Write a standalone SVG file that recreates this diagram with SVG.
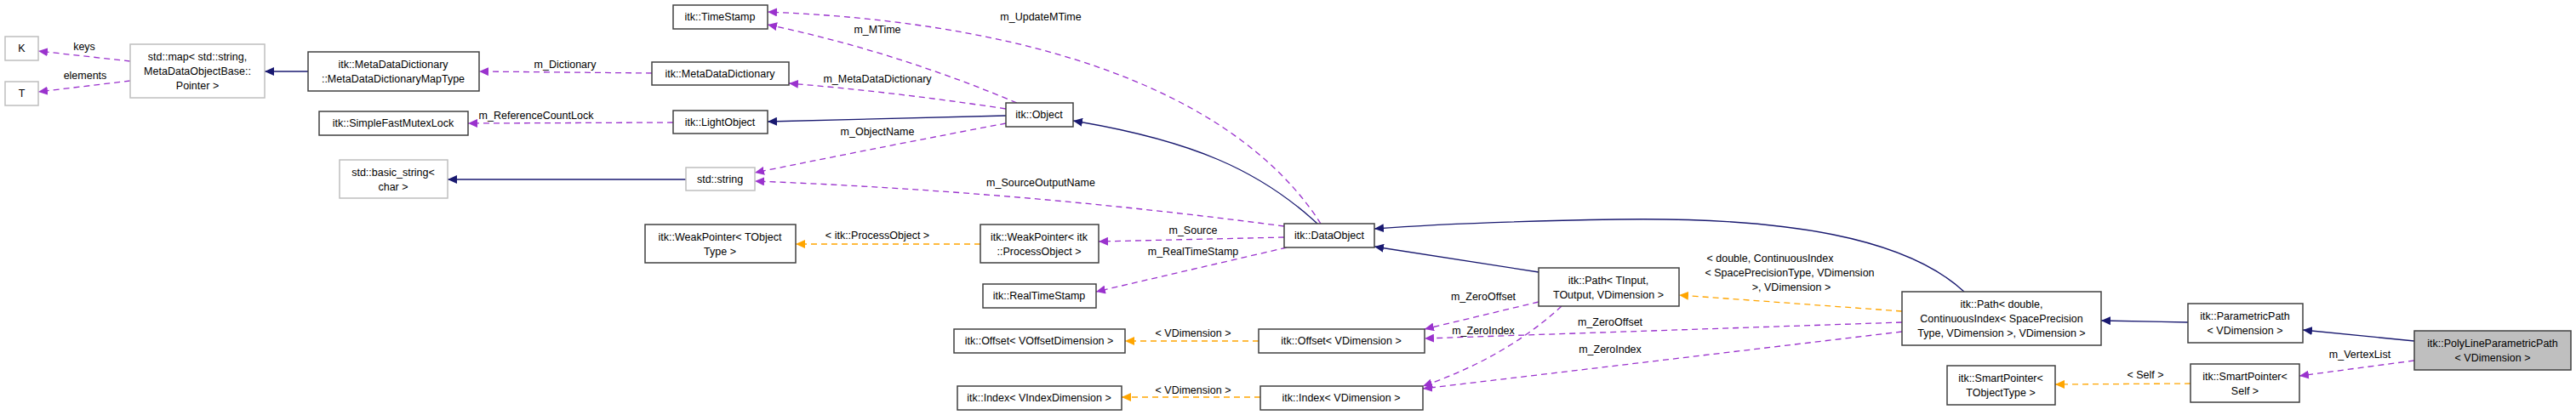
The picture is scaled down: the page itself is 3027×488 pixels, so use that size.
<svg xmlns="http://www.w3.org/2000/svg" width="3027" height="488" viewBox="0 0 3027 488">
<style>
text{font-family:"Liberation Sans",Arial,sans-serif;font-size:12.5px;fill:#000;text-anchor:middle}
.n{fill:#fff;stroke:#404040;stroke-width:1.5}
.g{fill:#fff;stroke:#bfbfbf;stroke-width:1.5}
.h{fill:#bfbfbf;stroke:#404040;stroke-width:1.5}
.s{fill:none;stroke:#191970;stroke-width:1.3;marker-end:url(#ab)}
.p{fill:none;stroke:#9a32cd;stroke-width:1.3;stroke-dasharray:7,5;marker-end:url(#ap)}
.o{fill:none;stroke:#ffa500;stroke-width:1.3;stroke-dasharray:7,5;marker-end:url(#ao)}
</style>
<defs>
<marker id="ab" markerUnits="userSpaceOnUse" markerWidth="12" markerHeight="10" refX="11" refY="5" orient="auto"><path d="M0,0L11,5L0,10z" fill="#191970"/></marker>
<marker id="ap" markerUnits="userSpaceOnUse" markerWidth="12" markerHeight="10" refX="11" refY="5" orient="auto"><path d="M0,0L11,5L0,10z" fill="#9a32cd"/></marker>
<marker id="ao" markerUnits="userSpaceOnUse" markerWidth="12" markerHeight="10" refX="11" refY="5" orient="auto"><path d="M0,0L11,5L0,10z" fill="#ffa500"/></marker>
</defs>
<rect width="3027" height="488" fill="#fff"/>
<g id="connectors">
<path class="p" d="M153,72L45,60"/><text x="99" y="59">keys</text>
<path class="p" d="M153,95L45,108"/><text x="100" y="93">elements</text>
<path class="s" d="M362,84L311,84"/>
<path class="p" d="M766,86L563,84"/><text x="664" y="80">m_Dictionary</text>
<path class="p" d="M791,144L550,145"/><text x="630" y="140">m_ReferenceCountLock</text>
<path class="s" d="M806,211L526,211"/>
<path class="p" d="M1195,121Q1050,60 902,29"/><text x="1031" y="39">m_MTime</text>
<path class="p" d="M1182,128Q1050,108 927,98"/><text x="1031" y="97">m_MetaDataDictionary</text>
<path class="s" d="M1182,136L902,143"/>
<path class="p" d="M1182,145Q1050,170 887,203"/><text x="1031" y="159">m_ObjectName</text>
<path class="p" d="M1552,263C1480,150 1300,30 902,14"/><text x="1223" y="24">m_UpdateMTime</text>
<path class="p" d="M1509,266Q1200,225 887,213"/><text x="1223" y="219">m_SourceOutputName</text>
<path class="s" d="M1548,263C1480,200 1400,165 1261,142"/>
<path class="p" d="M1509,279L1291,284"/><text x="1402" y="275">m_Source</text>
<path class="p" d="M1512,291L1288,343"/><text x="1402" y="300">m_RealTimeStamp</text>
<path class="o" d="M1152,287L935,287"/><text x="1031" y="281">&lt; itk::ProcessObject &gt;</text>
<path class="s" d="M1808,320L1615,290"/>
<path class="s" d="M2308,343C2240,280 2100,255 1900,258C1780,260 1680,264 1615,269"/>
<path class="o" d="M2235,366L1973,347"/>
<text x="2080" y="308">&lt; double, ContinuousIndex</text>
<text x="2103" y="325">&lt; SpacePrecisionType, VDimension</text>
<text x="2105" y="342">&gt;, VDimension &gt;</text>
<path class="p" d="M1808,355L1674,387"/><text x="1743" y="353">m_ZeroOffset</text>
<path class="p" d="M1835,360Q1770,420 1672,454"/><text x="1743" y="393">m_ZeroIndex</text>
<path class="p" d="M2235,379L1674,398"/><text x="1892" y="383">m_ZeroOffset</text>
<path class="p" d="M2235,390L1672,457"/><text x="1892" y="415">m_ZeroIndex</text>
<path class="o" d="M1479,401L1322,401"/><text x="1402" y="396">&lt; VDimension &gt;</text>
<path class="o" d="M1481,467L1318,467"/><text x="1402" y="463">&lt; VDimension &gt;</text>
<path class="s" d="M2571,379L2469,377"/>
<path class="s" d="M2837,401L2706,388"/>
<path class="p" d="M2837,424L2702,442"/><text x="2773" y="421">m_VertexList</text>
<path class="o" d="M2574,451L2415,452"/><text x="2521" y="445">&lt; Self &gt;</text>
</g>
<g id="K"><rect class="g" x="6" y="43" width="39" height="28"/><text x="25.5" y="61">K</text></g>
<g id="T"><rect class="g" x="6" y="96" width="39" height="28"/><text x="25.5" y="114">T</text></g>
<g id="stdmap"><rect class="g" x="153" y="52" width="158" height="63"/><text x="232" y="71">std::map&lt; std::string,</text><text x="232" y="88">MetaDataObjectBase::</text><text x="232" y="105">Pointer &gt;</text></g>
<g id="MapType"><rect class="n" x="362" y="61" width="201" height="46"/><text x="462" y="80">itk::MetaDataDictionary</text><text x="462" y="97">::MetaDataDictionaryMapType</text></g>
<g id="Mutex"><rect class="n" x="375" y="131" width="175" height="28"/><text x="462" y="149">itk::SimpleFastMutexLock</text></g>
<g id="basic_string"><rect class="g" x="399" y="188" width="127" height="45"/><text x="462" y="207">std::basic_string&lt;</text><text x="462" y="224">char &gt;</text></g>
<g id="TimeStamp"><rect class="n" x="791" y="6" width="111" height="28"/><text x="846" y="24">itk::TimeStamp</text></g>
<g id="MetaDataDictionary"><rect class="n" x="766" y="73" width="161" height="27"/><text x="846" y="91">itk::MetaDataDictionary</text></g>
<g id="LightObject"><rect class="n" x="791" y="130" width="111" height="27"/><text x="846" y="148">itk::LightObject</text></g>
<g id="stdstring"><rect class="g" x="806" y="197" width="81" height="27"/><text x="846" y="215">std::string</text></g>
<g id="WeakPointerT"><rect class="n" x="758" y="264" width="177" height="45"/><text x="846" y="283">itk::WeakPointer&lt; TObject</text><text x="846" y="300">Type &gt;</text></g>
<g id="Object"><rect class="n" x="1182" y="121" width="79" height="28"/><text x="1221" y="139">itk::Object</text></g>
<g id="WeakPointerPO"><rect class="n" x="1152" y="264" width="139" height="45"/><text x="1221" y="283">itk::WeakPointer&lt; itk</text><text x="1221" y="300">::ProcessObject &gt;</text></g>
<g id="RealTimeStamp"><rect class="n" x="1155" y="334" width="133" height="28"/><text x="1221" y="352">itk::RealTimeStamp</text></g>
<g id="OffsetV"><rect class="n" x="1121" y="387" width="201" height="28"/><text x="1221" y="405">itk::Offset&lt; VOffsetDimension &gt;</text></g>
<g id="IndexV"><rect class="n" x="1125" y="454" width="193" height="28"/><text x="1221" y="472">itk::Index&lt; VIndexDimension &gt;</text></g>
<g id="DataObject"><rect class="n" x="1509" y="263" width="106" height="28"/><text x="1562" y="281">itk::DataObject</text></g>
<g id="OffsetD"><rect class="n" x="1479" y="387" width="195" height="28"/><text x="1576" y="405">itk::Offset&lt; VDimension &gt;</text></g>
<g id="IndexD"><rect class="n" x="1481" y="454" width="191" height="28"/><text x="1576" y="472">itk::Index&lt; VDimension &gt;</text></g>
<g id="PathT"><rect class="n" x="1808" y="315" width="165" height="45"/><text x="1890" y="334">itk::Path&lt; TInput,</text><text x="1890" y="351">TOutput, VDimension &gt;</text></g>
<g id="PathD"><rect class="n" x="2235" y="343" width="234" height="63"/><text x="2352" y="362">itk::Path&lt; double,</text><text x="2352" y="379">ContinuousIndex&lt; SpacePrecision</text><text x="2352" y="396">Type, VDimension &gt;, VDimension &gt;</text></g>
<g id="SmartPointerT"><rect class="n" x="2288" y="430" width="127" height="46"/><text x="2351" y="449">itk::SmartPointer&lt;</text><text x="2351" y="466">TObjectType &gt;</text></g>
<g id="ParametricPath"><rect class="n" x="2571" y="357" width="135" height="46"/><text x="2638" y="376">itk::ParametricPath</text><text x="2638" y="393">&lt; VDimension &gt;</text></g>
<g id="SmartPointerSelf"><rect class="n" x="2574" y="428" width="128" height="45"/><text x="2638" y="447">itk::SmartPointer&lt;</text><text x="2638" y="464">Self &gt;</text></g>
<g id="PolyLine"><rect class="h" x="2837" y="389" width="184" height="46"/><text x="2929" y="408">itk::PolyLineParametricPath</text><text x="2929" y="425">&lt; VDimension &gt;</text></g>
</svg>
